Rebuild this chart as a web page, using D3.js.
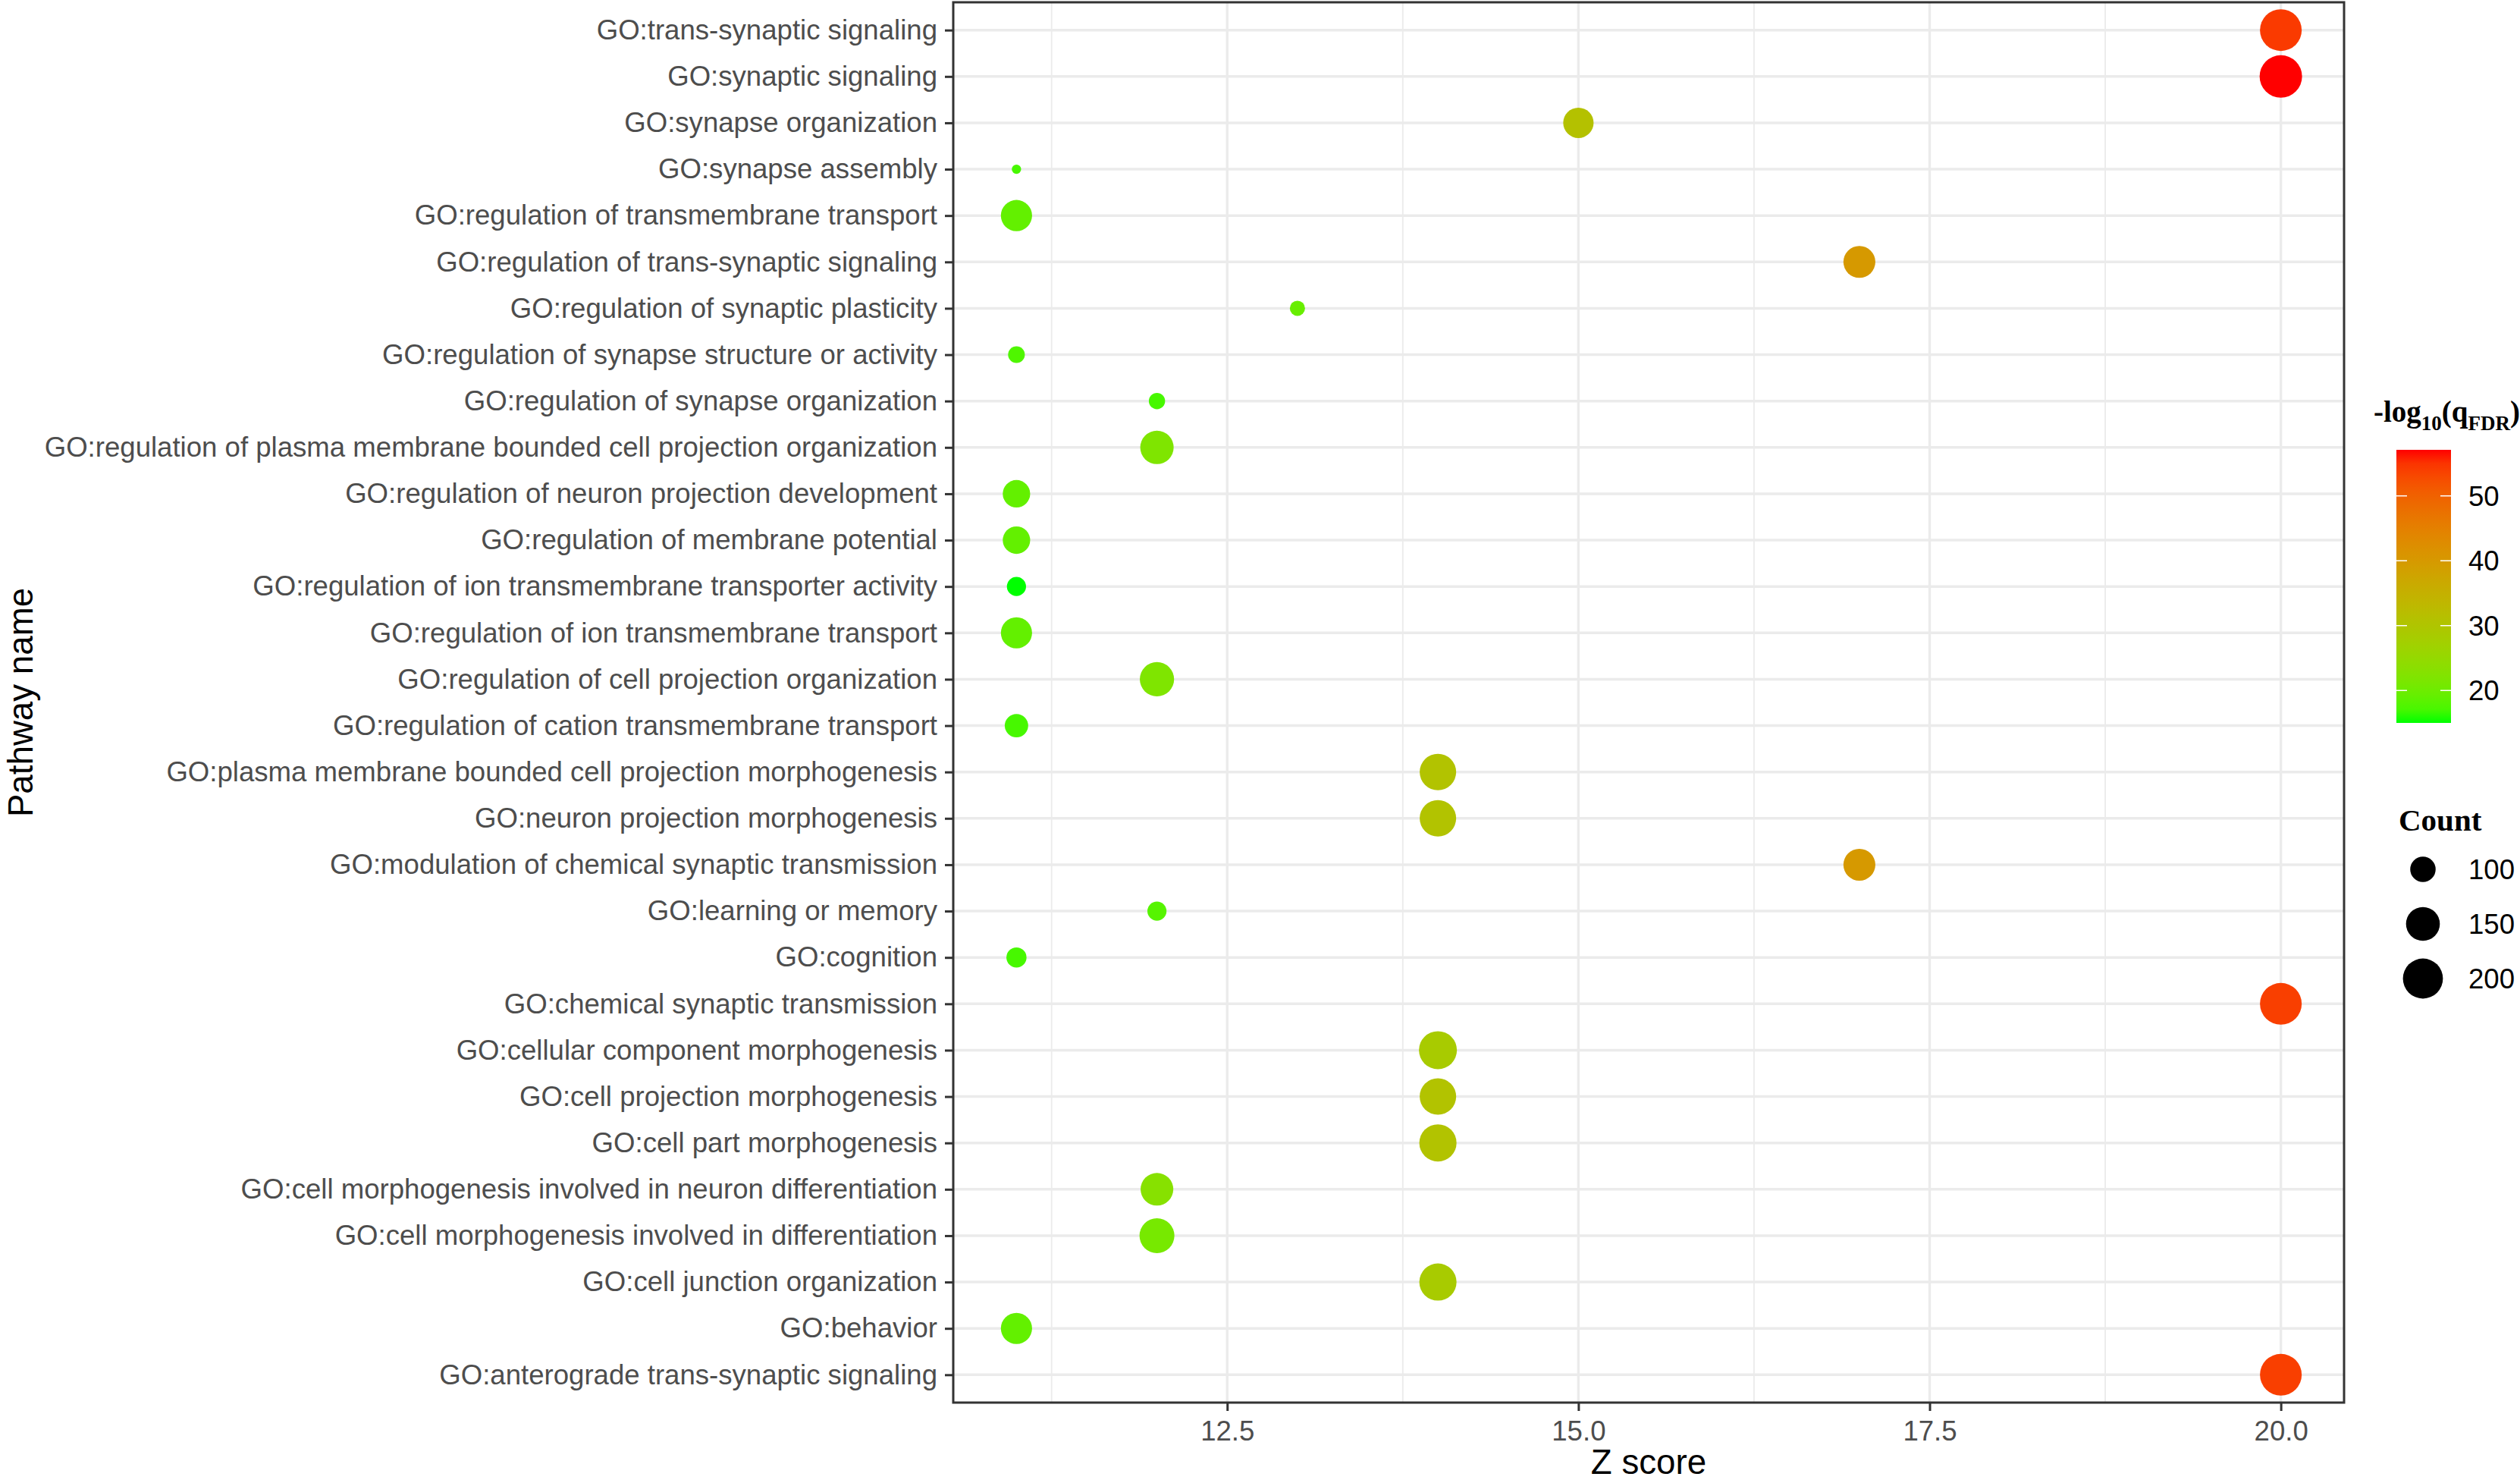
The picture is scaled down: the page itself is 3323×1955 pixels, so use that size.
<!DOCTYPE html>
<html>
<head>
<meta charset="utf-8">
<script src="https://cdn.jsdelivr.net/npm/d3@7"></script>
<style>
  html, body { margin: 0; padding: 0; background: #ffffff; }
  svg { display: block; }
</style>
</head>
<body>
<svg id="chart" width="3323" height="1955"></svg>
<script>
// ---------------- data (top row to bottom row) ----------------
const pathways = [
  "GO:trans-synaptic signaling",
  "GO:synaptic signaling",
  "GO:synapse organization",
  "GO:synapse assembly",
  "GO:regulation of transmembrane transport",
  "GO:regulation of trans-synaptic signaling",
  "GO:regulation of synaptic plasticity",
  "GO:regulation of synapse structure or activity",
  "GO:regulation of synapse organization",
  "GO:regulation of plasma membrane bounded cell projection organization",
  "GO:regulation of neuron projection development",
  "GO:regulation of membrane potential",
  "GO:regulation of ion transmembrane transporter activity",
  "GO:regulation of ion transmembrane transport",
  "GO:regulation of cell projection organization",
  "GO:regulation of cation transmembrane transport",
  "GO:plasma membrane bounded cell projection morphogenesis",
  "GO:neuron projection morphogenesis",
  "GO:modulation of chemical synaptic transmission",
  "GO:learning or memory",
  "GO:cognition",
  "GO:chemical synaptic transmission",
  "GO:cellular component morphogenesis",
  "GO:cell projection morphogenesis",
  "GO:cell part morphogenesis",
  "GO:cell morphogenesis involved in neuron differentiation",
  "GO:cell morphogenesis involved in differentiation",
  "GO:cell junction organization",
  "GO:behavior",
  "GO:anterograde trans-synaptic signaling"
];
const zScore = [20, 20, 15, 11, 11, 17, 13, 11, 12, 12, 11, 11, 11, 11, 12, 11, 14, 14, 17, 12, 11, 20, 14, 14, 14, 12, 12, 14, 11, 20];
const geneCount = [216, 223, 127, 62, 132, 137, 67, 70, 69, 147, 110, 110, 76, 132, 153, 91, 170, 170, 137, 76, 79, 216, 182, 170, 176, 142, 158, 176, 132, 216];
const negLogQ = [54.5, 57.1, 31, 17, 19, 40, 19.5, 17.5, 17, 22, 19, 19, 15, 19, 22, 17, 30.5, 30.5, 40, 18, 17, 54, 28.5, 30.5, 30.5, 23, 21, 28.5, 19, 54];

const xTicks = [12.5, 15.0, 17.5, 20.0];
const xMinorTicks = [11.25, 13.75, 16.25, 18.75];
const colorTicks = [20, 30, 40, 50];
const sizeLegendValues = [100, 150, 200];

const xTitle = "Z score";
const yTitle = "Pathway name";
const sizeTitle = "Count";

// ---------------- layout ----------------
const panel = { left: 1257, right: 3091, top: 3, bottom: 1849 };
const sansFont = "'Liberation Sans', Arial, sans-serif";
const serifFont = "'Liberation Serif', 'Times New Roman', serif";
const axisTextSize = 36.6;
const titleSize = 45.7;

const rows = pathways.map((p, i) => ({ name: p, z: zScore[i], count: geneCount[i], q: negLogQ[i] }));

const svg = d3.select("#chart");
svg.append("rect").attr("width", 3323).attr("height", 1955).attr("fill", "#ffffff");

// scales
const zExt = d3.extent(zScore);
const zPad = (zExt[1] - zExt[0]) * 0.05;
const x = d3.scaleLinear().domain([zExt[0] - zPad, zExt[1] + zPad]).range([panel.left, panel.right]);
const y = d3.scalePoint().domain(pathways).range([panel.top, panel.bottom]).padding(0.6);

const qExt = d3.extent(negLogQ);
const color = d3.scaleLinear().domain(qExt).range(["#00FF00", "#FF0000"]).interpolate(d3.interpolateLab);

const cExt = d3.extent(geneCount);
const countNorm = d3.scaleLinear().domain(cExt).range([0, 1]).clamp(true);
const diam = d3.scaleLinear().domain([0, 1]).range([12.3, 56]);
const radius = v => diam(Math.sqrt(countNorm(v))) / 2;

// ---------------- grid ----------------
const grid = svg.append("g");
grid.selectAll("line.minor").data(xMinorTicks).join("line")
  .attr("x1", d => x(d)).attr("x2", d => x(d))
  .attr("y1", panel.top).attr("y2", panel.bottom)
  .attr("stroke", "#EBEBEB").attr("stroke-width", 1.8);
grid.selectAll("line.majorx").data(xTicks).join("line")
  .attr("x1", d => x(d)).attr("x2", d => x(d))
  .attr("y1", panel.top).attr("y2", panel.bottom)
  .attr("stroke", "#EBEBEB").attr("stroke-width", 3.4);
grid.selectAll("line.majory").data(pathways).join("line")
  .attr("x1", panel.left).attr("x2", panel.right)
  .attr("y1", d => y(d)).attr("y2", d => y(d))
  .attr("stroke", "#EBEBEB").attr("stroke-width", 3.4);

// ---------------- points ----------------
svg.append("g").selectAll("circle").data(rows).join("circle")
  .attr("cx", d => x(d.z))
  .attr("cy", d => y(d.name))
  .attr("r", d => radius(d.count))
  .attr("fill", d => color(d.q));

// ---------------- panel border ----------------
svg.append("rect")
  .attr("x", panel.left).attr("y", panel.top)
  .attr("width", panel.right - panel.left).attr("height", panel.bottom - panel.top)
  .attr("fill", "none").attr("stroke", "#333333").attr("stroke-width", 3);

// ---------------- axes ----------------
const yAxis = svg.append("g")
  .attr("transform", `translate(${panel.left},0)`)
  .call(d3.axisLeft(y).tickSize(11).tickPadding(10));
yAxis.select(".domain").remove();
yAxis.selectAll(".tick line").attr("stroke", "#333333").attr("stroke-width", 3);
yAxis.selectAll(".tick text")
  .attr("fill", "#4D4D4D").attr("font-size", axisTextSize).attr("font-family", sansFont);

const xAxis = svg.append("g")
  .attr("transform", `translate(0,${panel.bottom})`)
  .call(d3.axisBottom(x).tickValues(xTicks).tickFormat(d3.format(".1f")).tickSize(11).tickPadding(13));
xAxis.select(".domain").remove();
xAxis.selectAll(".tick line").attr("stroke", "#333333").attr("stroke-width", 3);
xAxis.selectAll(".tick text")
  .attr("fill", "#4D4D4D").attr("font-size", axisTextSize).attr("font-family", sansFont);

// axis titles
svg.append("text")
  .attr("x", (panel.left + panel.right) / 2).attr("y", 1943)
  .attr("text-anchor", "middle").attr("font-family", sansFont).attr("font-size", titleSize)
  .attr("fill", "#000000").text(xTitle);
svg.append("text")
  .attr("transform", `translate(43,${(panel.top + panel.bottom) / 2}) rotate(-90)`)
  .attr("text-anchor", "middle").attr("font-family", sansFont).attr("font-size", titleSize)
  .attr("fill", "#000000").text(yTitle);

// ---------------- colour legend ----------------
const bar = { x: 3160, w: 72, top: 593, bottom: 953 };
const barScale = d3.scaleLinear().domain(qExt).range([bar.bottom, bar.top]);
const defs = svg.append("defs");
const grad = defs.append("linearGradient").attr("id", "qgrad")
  .attr("x1", 0).attr("y1", 1).attr("x2", 0).attr("y2", 0);
d3.range(0, 1.0001, 0.05).forEach(t => {
  grad.append("stop").attr("offset", t)
    .attr("stop-color", color(qExt[0] + t * (qExt[1] - qExt[0])));
});
svg.append("rect").attr("x", bar.x).attr("y", bar.top)
  .attr("width", bar.w).attr("height", bar.bottom - bar.top)
  .attr("fill", "url(#qgrad)");
const cb = svg.append("g");
cb.selectAll("line.l").data(colorTicks).join("line")
  .attr("x1", bar.x).attr("x2", bar.x + 14)
  .attr("y1", d => barScale(d)).attr("y2", d => barScale(d))
  .attr("stroke", "#ffffff").attr("stroke-width", 1.5);
cb.selectAll("line.r").data(colorTicks).join("line")
  .attr("x1", bar.x + bar.w - 14).attr("x2", bar.x + bar.w)
  .attr("y1", d => barScale(d)).attr("y2", d => barScale(d))
  .attr("stroke", "#ffffff").attr("stroke-width", 1.5);
cb.selectAll("text").data(colorTicks).join("text")
  .attr("x", 3255).attr("y", d => barScale(d))
  .attr("dy", "0.35em")
  .attr("font-family", sansFont).attr("font-size", axisTextSize).attr("fill", "#000000")
  .text(d => d);

const ctitle = svg.append("text")
  .attr("x", 3130).attr("y", 556)
  .attr("font-family", serifFont).attr("font-weight", "bold").attr("font-size", 39)
  .attr("fill", "#000000");
ctitle.append("tspan").text("-log");
ctitle.append("tspan").attr("dy", 11).attr("font-size", 27).text("10");
ctitle.append("tspan").attr("dy", -11).text("(q");
ctitle.append("tspan").attr("dy", 11).attr("font-size", 27).text("FDR");
ctitle.append("tspan").attr("dy", -11).text(")");

// ---------------- size legend ----------------
svg.append("text")
  .attr("x", 3163).attr("y", 1095)
  .attr("font-family", serifFont).attr("font-weight", "bold").attr("font-size", 41)
  .attr("fill", "#000000").text(sizeTitle);
const sizeY = d3.scalePoint().domain(sizeLegendValues).range([1146, 1290]);
const sl = svg.append("g");
sl.selectAll("circle").data(sizeLegendValues).join("circle")
  .attr("cx", 3195).attr("cy", d => sizeY(d))
  .attr("r", d => radius(d)).attr("fill", "#000000");
sl.selectAll("text").data(sizeLegendValues).join("text")
  .attr("x", 3255).attr("y", d => sizeY(d)).attr("dy", "0.35em")
  .attr("font-family", sansFont).attr("font-size", axisTextSize).attr("fill", "#000000")
  .text(d => d);
</script>
</body>
</html>
